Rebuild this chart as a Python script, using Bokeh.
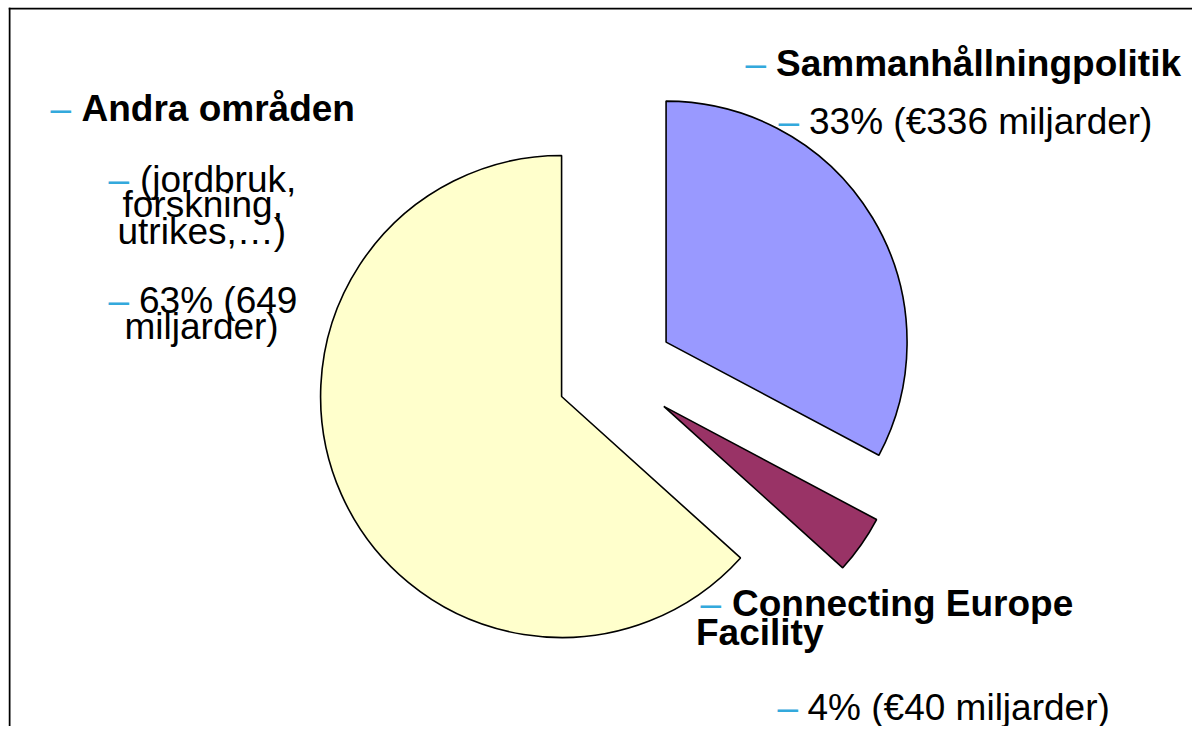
import math
from bokeh.plotting import figure
from bokeh.models import Range1d, Span, ColumnDataSource
from bokeh.core.properties import value
from bokeh.embed import file_html
from bokeh.resources import INLINE

# ---------------- data ----------------
categories = ["Sammanhållningpolitik", "Connecting Europe Facility", "Andra områden"]
amounts = [336, 40, 649]          # miljarder euro
percent_labels = ["33% (€336 miljarder)", "4% (€40 miljarder)", "63% (649 miljarder)"]
andra_detail = ["(jordbruk,", "forskning,", "utrikes,…)"]
colors = ["#9999FF", "#993366", "#FFFFCC"]

# ---------------- layout ----------------
W, H = 1192, 726
BL, BT = 8, 7
FW, FH = W - BL, H - BT
TEXT_DY = 11.5   # correction for the renderer's baseline placement


def dx(x):
    return x - BL


def dy(y):
    return H - y


CX, CY = dx(615), dy(372)
R = 241
EXPLODE = 59
FONT = "Liberation Sans"
FSIZE = "37px"
DASH_COLOR = "#33A9DC"

p = figure(width=W, height=H, output_backend="svg", toolbar_location=None,
           x_axis_type=None, y_axis_type=None,
           x_range=Range1d(0, FW), y_range=Range1d(0, FH),
           min_border_left=BL, min_border_top=BT, min_border_right=0, min_border_bottom=0)
p.outline_line_color = None
p.background_fill_color = "white"
p.border_fill_color = "white"
p.grid.visible = False

# ---------------- pie wedges ----------------
total = float(sum(amounts))
xs, ys, starts, ends = [], [], [], []
cum = 0.0
for a in amounts:
    a0 = cum / total
    cum += a
    a1 = cum / total
    th0 = math.pi / 2 - 2 * math.pi * a0
    th1 = math.pi / 2 - 2 * math.pi * a1
    mid = (th0 + th1) / 2
    xs.append(CX + EXPLODE * math.cos(mid))
    ys.append(CY + EXPLODE * math.sin(mid))
    starts.append(th1)
    ends.append(th0)

src = ColumnDataSource(dict(x=xs, y=ys, start=starts, end=ends, color=colors, cat=categories))
p.wedge(x="x", y="y", radius=R, radius_units="data", start_angle="start", end_angle="end",
        direction="anticlock", fill_color="color", line_color="black", line_width=1.6, source=src)

# ---------------- labels ----------------
pct_andra = percent_labels[2].rsplit(" ", 1)
cef_words = categories[1].rsplit(" ", 1)

bold_lines = [
    (categories[2], 81, 119),
    (categories[0], 775.5, 74.5),
    (cef_words[0], 731.5, 614),
    (cef_words[1], 695.5, 643),
]
normal_lines = [
    (andra_detail[0], 139.5, 190),
    (andra_detail[1], 122, 215),
    (andra_detail[2], 117, 242),
    (pct_andra[0], 138.5, 311),
    (pct_andra[1], 124, 337),
    (percent_labels[0], 808.5, 132),
    (percent_labels[1], 807, 718),
]
dashes = [(50, 119), (108, 190), (108, 311), (745, 74.5), (778, 132), (700, 614), (777, 718)]


def src_for(items):
    return ColumnDataSource(dict(x=[dx(t[-2]) for t in items],
                                 y=[dy(t[-1] - TEXT_DY) for t in items],
                                 text=[t[0] for t in items]))


p.text(x="x", y="y", text="text", source=src_for(bold_lines), text_font=value(FONT),
       text_font_size=FSIZE, text_font_style="bold", text_color="black",
       text_align="left", text_baseline="alphabetic")

p.text(x="x", y="y", text="text", source=src_for(normal_lines), text_font=value(FONT),
       text_font_size=FSIZE, text_color="black", text_align="left", text_baseline="alphabetic")

p.text(x="x", y="y", text="text", source=src_for([("–",) + d for d in dashes]), text_font=value(FONT),
       text_font_size=FSIZE, text_color=DASH_COLOR, text_align="left", text_baseline="alphabetic")

# ---------------- frame lines (top & left, as in the reference) ----------------
p.add_layout(Span(location=FH - 1, dimension="width", line_color="black", line_width=2))
p.add_layout(Span(location=1, dimension="height", line_color="black", line_width=2))

open("out.html", "w").write(file_html(p, INLINE))
